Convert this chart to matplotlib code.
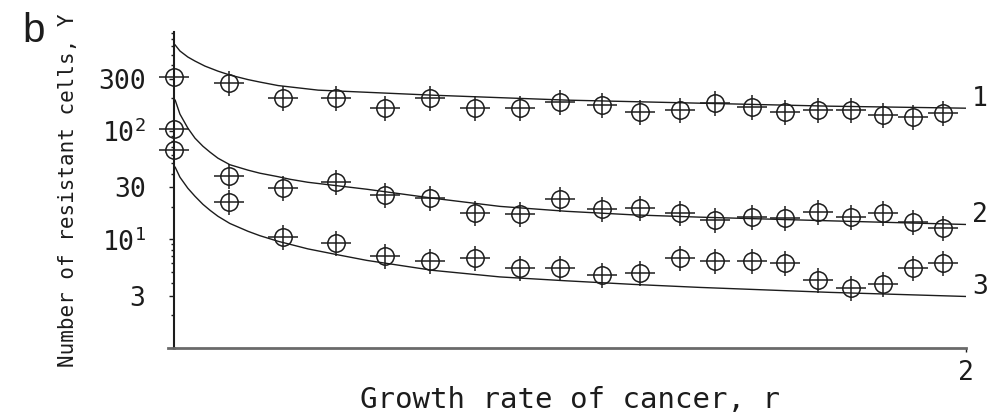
import matplotlib
matplotlib.use("Agg")
import matplotlib.pyplot as plt
from matplotlib.ticker import FixedLocator, FixedFormatter, LogLocator, NullFormatter

# Observed resistant-cell counts at each growth rate r
r_obs = [0.0, 0.139, 0.275, 0.409, 0.533, 0.646, 0.760, 0.874, 0.975, 1.081,
         1.177, 1.278, 1.366, 1.460, 1.543, 1.626, 1.710, 1.790, 1.866, 1.942]
cells_1 = [313, 274, 199, 200, 161, 201, 161, 161, 183, 172,
           148, 155, 179, 165, 148, 155, 155, 139, 133, 145]
cells_2 = [103, 38, 29.5, 33.5, 25.4, 23.9, 17.4, 17.0, 23.4, 18.9,
           19.3, 17.4, 15.0, 16.0, 15.6, 17.7, 16.0, 17.4, 14.3, 12.6]
cells_3 = [66, 21.9, 10.4, 9.2, 7.0, 6.3, 6.8, 5.5, 5.4, 4.7,
           4.9, 6.7, 6.3, 6.3, 6.0, 4.2, 3.6, 3.9, 5.4, 6.1]

# Model curves
r_fit_1 = [0.003, 0.015, 0.035, 0.053, 0.078, 0.111, 0.141, 0.187, 0.217, 0.263,
           0.364, 0.654, 0.992, 1.328, 1.657, 2.0]
fit_1 = [614, 541, 476, 437, 393, 353, 325, 295, 280, 260,
         236, 212, 191, 179, 168, 161]
r_fit_2 = [0.003, 0.015, 0.035, 0.053, 0.073, 0.091, 0.111, 0.141, 0.187, 0.217,
           0.263, 0.293, 0.338, 0.487, 0.654, 0.823, 0.992, 1.159, 1.328, 1.657, 2.0]
fit_2 = [191, 142, 105.5, 85.3, 71.9, 63.4, 55.8, 48.6, 43.3, 40.6,
         37.7, 35.7, 33.5, 28.9, 23.9, 20.1, 18.1, 16.8, 16.0, 14.8, 13.7]
r_fit_3 = [0.003, 0.015, 0.035, 0.053, 0.073, 0.091, 0.111, 0.141, 0.187, 0.217,
           0.263, 0.293, 0.338, 0.414, 0.487, 0.654, 0.823, 0.992, 1.159, 1.328,
           1.657, 2.0]
fit_3 = [46.1, 37.3, 29.5, 24.9, 21.0, 18.5, 16.3, 14.0, 11.85, 10.8,
         9.59, 9.0, 8.17, 7.2, 6.4, 5.18, 4.51, 4.15, 3.85, 3.61,
         3.25, 2.98]

curve_names = ["1", "2", "3"]
ytick_values = [3, 10, 30, 100, 300]
ytick_labels = ["3", "10$^{\\mathrm{1}}$", "30", "10$^{\\mathrm{2}}$", "300"]
xtick_values = [2]
xtick_labels = ["2"]

plt.rcParams["mathtext.fontset"] = "custom"
plt.rcParams["mathtext.rm"] = "DejaVu Sans Mono"
plt.rcParams["mathtext.it"] = "DejaVu Sans Mono"

ink = "#1c1c1c"
mono = "DejaVu Sans Mono"

fig = plt.figure(figsize=(9.99, 4.16), dpi=100)
ax = fig.add_axes([174 / 999, 68 / 416, 792 / 999, 316 / 416])

ax.set_yscale("log")
ax.set_xlim(0, 2)
ax.set_ylim(1, 809)

fits = [(r_fit_1, fit_1), (r_fit_2, fit_2), (r_fit_3, fit_3)]
for rf, yf in fits:
    ax.plot(rf, yf, color=ink, lw=1.0, solid_joinstyle="round")

for cells in (cells_1, cells_2, cells_3):
    ax.plot(r_obs, cells, ls="none", marker="o", ms=12.5, mfc="none",
            mec=ink, mew=1.1, clip_on=False, zorder=3)
    ax.plot(r_obs, cells, ls="none", marker="_", ms=21, mew=1.1,
            color=ink, clip_on=False, zorder=3)
    ax.plot(r_obs, cells, ls="none", marker="|", ms=18, mew=1.1,
            color=ink, clip_on=False, zorder=3)

# curve numbers at the right end
for name, (rf, yf) in zip(curve_names, fits):
    ax.annotate(name, xy=(rf[-1], yf[-1]), xytext=(6, 9),
                textcoords="offset pixels", ha="left", va="center",
                fontsize=19, family=mono, color=ink, annotation_clip=False)

for side in ("top", "right"):
    ax.spines[side].set_visible(False)
ax.spines["left"].set_linewidth(1.5)
ax.spines["left"].set_color(ink)
ax.spines["bottom"].set_linewidth(2.0)
ax.spines["bottom"].set_color("#6a6a6a")
ax.plot([-0.008, 0], [0, 0], transform=ax.transAxes, color="#6a6a6a",
        lw=2.0, clip_on=False)

ax.yaxis.set_major_locator(FixedLocator(ytick_values))
ax.yaxis.set_major_formatter(FixedFormatter(ytick_labels))
ax.yaxis.set_minor_locator(LogLocator(base=10, subs=range(1, 10), numticks=20))
ax.yaxis.set_minor_formatter(NullFormatter())
ax.tick_params(axis="y", which="major", direction="out", length=3.5, width=1.0,
               color=ink, pad=17, labelsize=19, labelcolor=ink)
ax.tick_params(axis="y", which="minor", direction="out", length=2.2, width=1.0,
               color=ink)
for lbl in ax.get_yticklabels():
    lbl.set_family(mono)

ax.xaxis.set_major_locator(FixedLocator(xtick_values))
ax.xaxis.set_major_formatter(FixedFormatter(xtick_labels))
ax.tick_params(axis="x", which="major", direction="out", length=3, width=1.0,
               color=ink, pad=6, labelsize=19, labelcolor=ink)
for lbl in ax.get_xticklabels():
    lbl.set_family(mono)

ax.set_xlabel("Growth rate of cancer, r", family=mono, fontsize=21, color=ink)
ax.xaxis.set_label_coords(0.5, -0.19)
ax.xaxis.label.set_va("baseline")
ax.set_ylabel("Number of resistant cells, Y", family=mono, fontsize=15, color=ink)
ax.yaxis.set_label_coords(-0.121, 0.5)

fig.text(22 / 999, 1 - 42 / 416, "b", family="Liberation Sans", fontsize=29,
         color=ink, ha="left", va="baseline")

fig.savefig("out.png", dpi=100, facecolor="white")
